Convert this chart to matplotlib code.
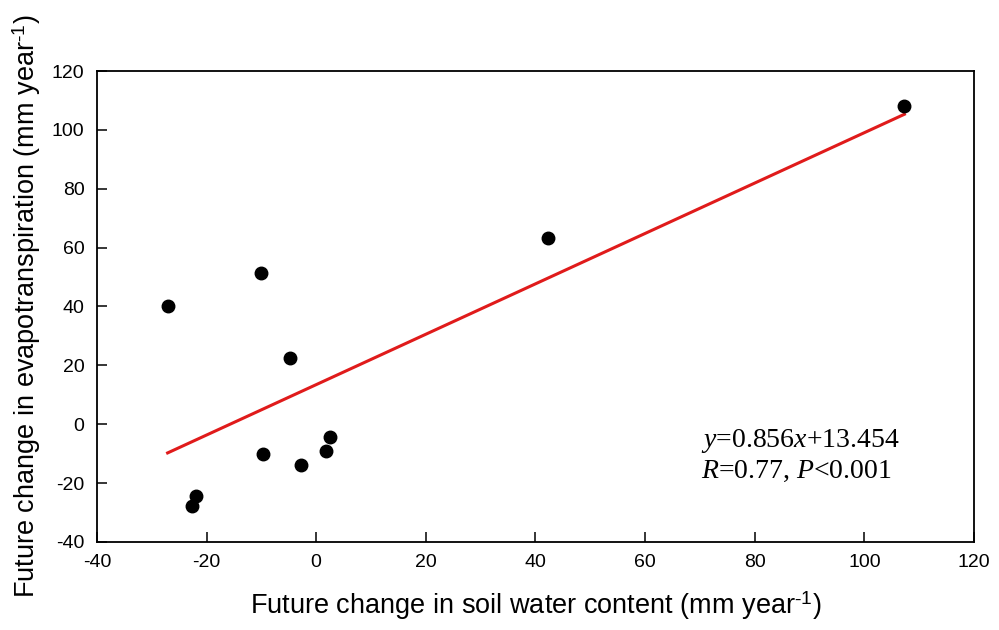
import numpy as np
import matplotlib
matplotlib.use("Agg")
import matplotlib.pyplot as plt

# future change in soil water content vs evapotranspiration (mm/year)
swc = [-27.1, -10.1, -4.8, -9.7, -2.8, 1.8, 2.6, -22.0, -22.7, 42.3, 107.3]
et = [40.0, 51.5, 22.6, -10.2, -13.8, -9.0, -4.5, -24.5, -27.8, 63.3, 108.2]

slope, intercept = 0.856, 13.454
xticks = [-40, -20, 0, 20, 40, 60, 80, 100, 120]
yticks = [-40, -20, 0, 20, 40, 60, 80, 100, 120]

plt.rcParams['font.family'] = ['Liberation Sans', 'DejaVu Sans']
plt.rcParams['axes.unicode_minus'] = False
plt.rcParams['mathtext.fontset'] = 'custom'
plt.rcParams['mathtext.it'] = 'Liberation Serif:italic'
plt.rcParams['mathtext.rm'] = 'Liberation Serif'
plt.rcParams['mathtext.sf'] = 'Liberation Sans'

fig = plt.figure(figsize=(9.99, 6.3), dpi=100)
ax = fig.add_axes([0.097, 0.1397, 0.878, 0.7476])

ax.plot(swc, et, 'o', color='black', markersize=9, zorder=3)
xl = np.array([min(swc), max(swc)])
ax.plot(xl, slope * xl + intercept, color='#e01b1b', linewidth=2.2, zorder=2)

ax.set_xlim(-40, 120)
ax.set_ylim(-40, 120)
ax.set_xticks(xticks)
ax.set_yticks(yticks)
ax.tick_params(direction='in', length=7, width=1.1, labelsize=14, pad=9,
               top=False, right=False)
for sp in ax.spines.values():
    sp.set_linewidth(1.3)

unit = "(mm year$^{\\mathsf{\\text{-}1}}$)"
ax.set_xlabel("Future change in soil water content " + unit, fontsize=19.5, labelpad=13)
ax.set_ylabel("Future change in evapotranspiration " + unit, fontsize=19.5, labelpad=6)

txt = "$\\it{y}$=0.856$\\it{x}$+13.454\n$\\it{R}$=0.77, $\\it{P}$<0.001"
ax.text(0.689, 0.183, txt, transform=ax.transAxes, fontsize=20,
        family='Liberation Serif', va='center', ha='left', linespacing=1.2)

fig.savefig("out.png", dpi=100)
